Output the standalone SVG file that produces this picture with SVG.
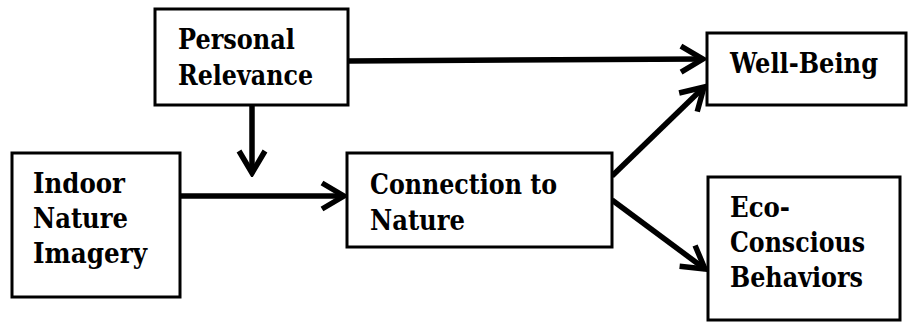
<svg xmlns="http://www.w3.org/2000/svg" width="915" height="322" viewBox="0 0 915 322">
<defs>
<style>
.box{fill:#fff;stroke:#000;stroke-width:3}
.t{font-family:'DejaVu Serif','Liberation Serif',serif;font-weight:700;font-size:28px;fill:#000}
.c{fill:none;stroke:#000;stroke-width:5.5;stroke-linecap:butt}
</style>
<marker id="ah" markerUnits="userSpaceOnUse" viewBox="-26 -16 30 32" markerWidth="30" markerHeight="32" refX="0" refY="0" orient="auto">
<path d="M-22,-13 L0,0 L-22,13" fill="none" stroke="#000" stroke-width="5.5" stroke-linejoin="miter"/>
</marker>
</defs>
<rect width="915" height="322" fill="#fff"/>
<g id="connectors">
<line class="c" x1="348" y1="61" x2="703" y2="59" marker-end="url(#ah)"/>
<line class="c" x1="252" y1="105" x2="252" y2="173" marker-end="url(#ah)"/>
<line class="c" x1="180" y1="196" x2="344" y2="196" marker-end="url(#ah)"/>
<line class="c" x1="612" y1="176" x2="704" y2="87" marker-end="url(#ah)"/>
<line class="c" x1="612" y1="200" x2="705" y2="269" marker-end="url(#ah)"/>
</g>
<g id="personal-relevance">
<rect class="box" x="155" y="9" width="193" height="96"/>
<text class="t" x="178" y="49" textLength="117" lengthAdjust="spacingAndGlyphs">Personal</text>
<text class="t" x="178" y="85" textLength="135" lengthAdjust="spacingAndGlyphs">Relevance</text>
</g>
<g id="indoor-nature-imagery">
<rect class="box" x="12" y="153" width="168" height="144"/>
<text class="t" x="33" y="193" textLength="92" lengthAdjust="spacingAndGlyphs">Indoor</text>
<text class="t" x="33" y="228" textLength="95" lengthAdjust="spacingAndGlyphs">Nature</text>
<text class="t" x="33" y="263" textLength="114" lengthAdjust="spacingAndGlyphs">Imagery</text>
</g>
<g id="connection-to-nature">
<rect class="box" x="347" y="153" width="265" height="94"/>
<text class="t" x="370" y="194" textLength="187" lengthAdjust="spacingAndGlyphs">Connection to</text>
<text class="t" x="370" y="230" textLength="95" lengthAdjust="spacingAndGlyphs">Nature</text>
</g>
<g id="well-being">
<rect class="box" x="707" y="33" width="199" height="72"/>
<text class="t" x="730" y="73" textLength="148" lengthAdjust="spacingAndGlyphs">Well-Being</text>
</g>
<g id="eco-conscious-behaviors">
<rect class="box" x="708" y="177" width="192" height="143"/>
<text class="t" x="730" y="217" textLength="60" lengthAdjust="spacingAndGlyphs">Eco-</text>
<text class="t" x="730" y="252" textLength="135" lengthAdjust="spacingAndGlyphs">Conscious</text>
<text class="t" x="730" y="287" textLength="133" lengthAdjust="spacingAndGlyphs">Behaviors</text>
</g>
</svg>
